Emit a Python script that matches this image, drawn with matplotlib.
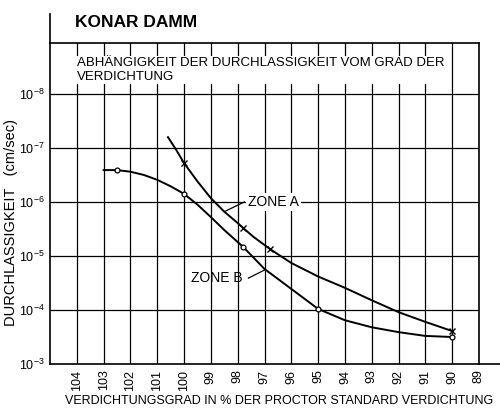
import numpy as np
import matplotlib.pyplot as plt

plt.rcParams['font.family'] = ['Liberation Sans', 'DejaVu Sans']
plt.rcParams['mathtext.default'] = 'regular'

# compaction degree (% Proctor) and permeability exponents (log10 cm/sec)
zone_a_x = [100.6, 100.3, 100.0, 99.5, 99.0, 98.5, 98.0, 97.8, 97.4, 96.8, 96.0, 95.0, 94.0, 93.0, 92.0, 91.0, 90.0]
zone_a_e = [-7.20, -6.97, -6.72, -6.38, -6.07, -5.82, -5.61, -5.52, -5.35, -5.13, -4.87, -4.62, -4.41, -4.18, -3.96, -3.78, -3.61]
zone_a_mx = [100.0, 97.8, 96.8, 90.0]
zone_a_me = [-6.72, -5.52, -5.13, -3.61]

zone_b_x = [103.0, 102.5, 102.0, 101.5, 101.0, 100.5, 100.0, 99.5, 99.0, 98.5, 97.8, 97.0, 96.0, 95.0, 94.0, 93.0, 92.0, 91.0, 90.0]
zone_b_e = [-6.59, -6.59, -6.56, -6.50, -6.41, -6.29, -6.15, -5.95, -5.72, -5.48, -5.17, -4.76, -4.39, -4.02, -3.81, -3.68, -3.59, -3.52, -3.50]
zone_b_mx = [102.5, 100.0, 97.8, 95.0, 90.0]
zone_b_me = [-6.59, -6.15, -5.17, -4.02, -3.50]

x_ticks = list(range(104, 88, -1))
y_decades = [-8, -7, -6, -5, -4, -3]

fig = plt.figure(figsize=(5.0, 4.09), dpi=100)
ax = fig.add_axes([0.10, 0.110, 0.858, 0.785])

ax.set_xlim(105, 89)
ax.set_yscale('log')
ax.set_ylim(10.0 ** -3, 10.0 ** -8.944)

for xv in x_ticks:
    ax.axvline(xv, color='black', lw=0.9, zorder=1)
for e in y_decades[:-1]:
    ax.axhline(10.0 ** e, color='black', lw=0.9, zorder=1)

ax.plot(zone_a_x, [10.0 ** e for e in zone_a_e], color='black', lw=1.4, zorder=3)
ax.plot(zone_a_mx, [10.0 ** e for e in zone_a_me], ls='none', marker='x', ms=4,
        mew=1.0, color='black', zorder=4)
ax.plot(zone_b_x, [10.0 ** e for e in zone_b_e], color='black', lw=1.4, zorder=3)
ax.plot(zone_b_mx, [10.0 ** e for e in zone_b_me], ls='none', marker='o', ms=3.5,
        mew=0.9, mfc='white', color='black', zorder=4)

ax.set_xticks(x_ticks)
ax.set_xticklabels([str(v) for v in x_ticks], rotation=90, fontsize=9)
ax.set_yticks([10.0 ** e for e in y_decades])
ax.set_yticklabels([r'$10^{%d}$' % e for e in y_decades], fontsize=9)
ax.yaxis.set_minor_locator(plt.NullLocator())
ax.tick_params(length=0, pad=4)
for s in ax.spines.values():
    s.set_linewidth(1.2)

# labels on the curves
ax.text(97.6, 10.0 ** -6.0, 'ZONE A', fontsize=10, ha='left', va='center',
        bbox=dict(fc='white', ec='none', pad=1.5), zorder=5)
ax.plot([97.75, 98.46], [10.0 ** -6.0, 10.0 ** -5.83], color='black', lw=0.9, zorder=5)
ax.text(97.8, 10.0 ** -4.59, 'ZONE B', fontsize=10, ha='right', va='center', zorder=5)
ax.plot([97.6, 97.0], [10.0 ** -4.59, 10.0 ** -4.74], color='black', lw=0.9, zorder=5)

ax.text(0.063, 0.955, 'ABHÄNGIGKEIT DER DURCHLASSIGKEIT VOM GRAD DER\nVERDICHTUNG',
        transform=ax.transAxes, fontsize=9.5, ha='left', va='top', linespacing=1.15,
        bbox=dict(fc='white', ec='none', pad=1), zorder=5)

ax.set_xlabel('VERDICHTUNGSGRAD IN % DER PROCTOR STANDARD VERDICHTUNG', fontsize=9, labelpad=2)
ax.xaxis.set_label_coords(0.534, -0.095)
ax.set_ylabel('DURCHLASSIGKEIT   (cm/sec)', fontsize=10.5, labelpad=2)
ax.yaxis.set_label_coords(-0.075, 0.44)

fig.text(0.15, 0.945, 'KONAR DAMM', fontsize=12.5, fontweight='bold', ha='left', va='center')

# axis arrow above the frame and extended base line
fig.add_artist(plt.Line2D([0.10, 0.10], [0.895, 0.965], color='black', lw=1.2))
fig.add_artist(plt.Line2D([0.958, 1.0], [0.110, 0.110], color='black', lw=1.2))

fig.savefig('out.png', dpi=100)
